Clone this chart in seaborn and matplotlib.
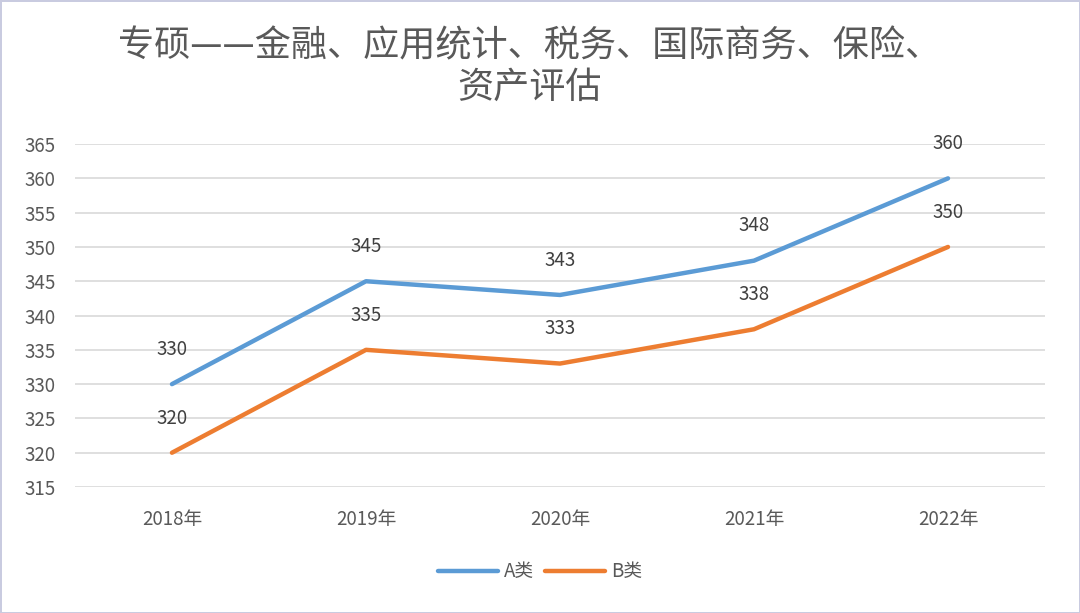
import pandas as pd
import matplotlib.pyplot as plt
import seaborn as sns

sns.set_theme(style="white")
plt.rcParams["font.family"] = ["Noto Sans CJK SC", "DejaVu Sans"]

# === Data ===
years = ["2018年", "2019年", "2020年", "2021年", "2022年"]
a_scores = [330, 345, 343, 348, 360]
b_scores = [320, 335, 333, 338, 350]
series_names = ["A类", "B类"]
colors = ["#5B9BD5", "#ED7D31"]

df = pd.DataFrame(
    {
        "年份": years * 2,
        "分数": a_scores + b_scores,
        "类别": [series_names[0]] * len(years) + [series_names[1]] * len(years),
    }
)

fig = plt.figure(figsize=(10.8, 6.13), dpi=100)
ax = fig.add_axes([0.0694, 0.2055, 0.8982, 0.5595])

sns.lineplot(
    data=df, x="年份", y="分数", hue="类别", palette=colors, linewidth=3.2,
    sort=False, ax=ax, legend=True,
)
for line in ax.lines:
    line.set_solid_capstyle("round")

# data labels
for vals in [a_scores, b_scores]:
    for i, v in enumerate(vals):
        ax.annotate(str(v), (i, v), xytext=(0, 25), textcoords="offset points",
                    ha="center", va="center", fontsize=13.5, color="#404040")

ax.set_xlim(-0.5, len(years) - 0.5)
ax.set_ylim(315, 365)
ax.set_yticks(range(315, 366, 5))
ax.yaxis.grid(True, color="#d9d9d9", linewidth=1.2)
ax.set_axisbelow(True)
for s in ax.spines.values():
    s.set_visible(False)
ax.tick_params(axis="both", length=0, labelsize=13.5, labelcolor="#595959")
ax.tick_params(axis="x", pad=16)
ax.tick_params(axis="y", pad=14)
ax.set_xlabel("")
ax.set_ylabel("")

fig.text(0.49, 0.925, "专硕——金融、应用统计、税务、国际商务、保险、", fontsize=26,
         color="#595959", ha="center", va="center")
fig.text(0.49, 0.857, "资产评估", fontsize=26, color="#595959", ha="center", va="center")

handles, labels = ax.get_legend_handles_labels()
leg = ax.legend(handles, labels, loc="center", ncol=2, frameon=False, fontsize=13.5,
                labelcolor="#595959", handlelength=3.2, columnspacing=0.6,
                handletextpad=0.3)
leg.set_bbox_to_anchor((0.5, 0.067), transform=fig.transFigure)

fig.patch.set_edgecolor("#c9cbe0")
fig.patch.set_linewidth(2)

plt.savefig("out.png", dpi=100)
